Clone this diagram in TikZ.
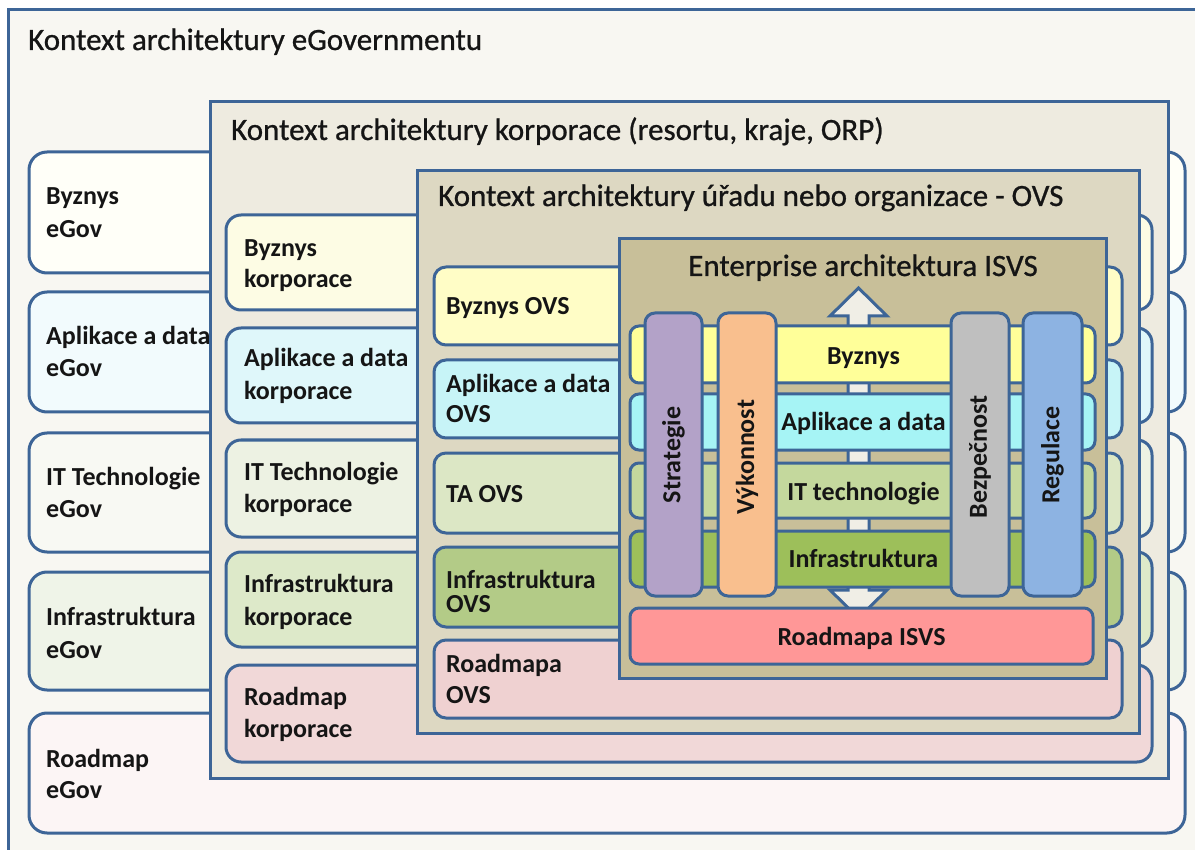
\documentclass[tikz,border=0pt]{standalone}
\usepackage{fontspec}
\setmainfont{Carlito}
\newfontfamily\ttlfont[FakeBold=0.8]{Carlito}
\definecolor{lb}{HTML}{3D6597}
\definecolor{tx}{HTML}{151515}
\definecolor{cOuter}{HTML}{F8F7F2}
\definecolor{cKorp}{HTML}{EEEBE0}
\definecolor{cOvs}{HTML}{DDD8C2}
\definecolor{cIsvs}{HTML}{C8BF99}
\definecolor{eByz}{HTML}{FFFFF8}
\definecolor{eApl}{HTML}{F2FBFD}
\definecolor{eIT}{HTML}{F8F9F3}
\definecolor{eInf}{HTML}{EFF4E8}
\definecolor{eRoad}{HTML}{FCF5F5}
\definecolor{kByz}{HTML}{FDFCE4}
\definecolor{kApl}{HTML}{DFF7FA}
\definecolor{kIT}{HTML}{EDF2E3}
\definecolor{kInf}{HTML}{DDE9C9}
\definecolor{kRoad}{HTML}{F1D8D8}
\definecolor{oByz}{HTML}{FFFDC6}
\definecolor{oApl}{HTML}{C7F4F7}
\definecolor{oTA}{HTML}{DCE7C5}
\definecolor{oInf}{HTML}{B3CB87}
\definecolor{oRoad}{HTML}{EFD1D1}
\definecolor{iByz}{HTML}{FFFF99}
\definecolor{iApl}{HTML}{A6F4F5}
\definecolor{iIT}{HTML}{C4D89D}
\definecolor{iInf}{HTML}{9DBF5A}
\definecolor{iRoad}{HTML}{FF9797}
\definecolor{pStr}{HTML}{B3A2C8}
\definecolor{pVyk}{HTML}{F9BF8E}
\definecolor{pBez}{HTML}{BFBFBF}
\definecolor{pReg}{HTML}{8DB3E2}
\definecolor{cArrow}{HTML}{F0EEE6}
\begin{document}
\begin{tikzpicture}[x=1pt,y=-1pt,
  ctxframe/.style={draw=lb, line width=3pt, fill=#1},
  rowbox/.style={draw=lb, line width=3pt, rounded corners=#1},
  lbl/.style={anchor=base west, inner sep=0pt, text=tx, font=\fontsize{26}{31}\selectfont\bfseries},
  clbl/.style={anchor=base, inner sep=0pt, text=tx, font=\fontsize{26}{31}\selectfont\bfseries},
  plbl/.style={anchor=center, inner sep=0pt, rotate=90, text=tx, font=\fontsize{26}{31}\selectfont\bfseries},
  ttl/.style={anchor=base west, inner sep=0pt, text=tx, font=\ttlfont\fontsize{31}{37}\selectfont}]
\useasboundingbox (0,0) rectangle (1195,850);
\clip (0,0) rectangle (1195,850);
\fill[white] (0,0) rectangle (1195,850);
% outer context
\draw[ctxframe=cOuter] (8,10) rectangle (1240,900);
\node[ttl] (tEgov) at (28,50) {Kontext architektury eGovernmentu};
% eGov rows
\draw[rowbox=18, fill=eByz]  (29,152) rectangle (1185,273);
\draw[rowbox=18, fill=eApl]  (29,292) rectangle (1185,412);
\draw[rowbox=18, fill=eIT]   (29,433) rectangle (1185,552);
\draw[rowbox=18, fill=eInf]  (29,572) rectangle (1185,690);
\draw[rowbox=18, fill=eRoad] (29,713) rectangle (1185,833);
\node[lbl] (eB1) at (46,205) {Byznys};
\node[lbl] (eB2) at (46,238) {eGov};
\node[lbl] (eA1) at (46,345) {Aplikace a data};
\node[lbl] (eA2) at (46,377) {eGov};
\node[lbl] (eI1) at (46,485) {IT Technologie};
\node[lbl] (eI2) at (46,517) {eGov};
\node[lbl] (eF1) at (46,625) {Infrastruktura};
\node[lbl] (eF2) at (46,658) {eGov};
\node[lbl] (eR1) at (46,767) {Roadmap};
\node[lbl] (eR2) at (46,798) {eGov};
% corporation context
\draw[ctxframe=cKorp] (210,102) rectangle (1168,778);
\node[ttl] (tKorp) at (231,140) {Kontext architektury korporace (resortu, kraje, ORP)};
\draw[rowbox=15, fill=kByz]  (226,215) rectangle (1152,310);
\draw[rowbox=15, fill=kApl]  (226,328) rectangle (1152,423);
\draw[rowbox=15, fill=kIT]   (226,440) rectangle (1152,537);
\draw[rowbox=15, fill=kInf]  (226,552) rectangle (1152,647);
\draw[rowbox=15, fill=kRoad] (226,665) rectangle (1152,762);
\node[lbl] (kB1) at (244,257) {Byznys};
\node[lbl] (kB2) at (244,288) {korporace};
\node[lbl] (kA1) at (244,367) {Aplikace a data};
\node[lbl] (kA2) at (244,400) {korporace};
\node[lbl] (kI1) at (244,480) {IT Technologie};
\node[lbl] (kI2) at (244,512) {korporace};
\node[lbl] (kF1) at (244,592) {Infrastruktura};
\node[lbl] (kF2) at (244,625) {korporace};
\node[lbl] (kR1) at (244,705) {Roadmap};
\node[lbl] (kR2) at (244,737) {korporace};
% OVS context
\draw[ctxframe=cOvs] (417,171) rectangle (1139,733);
\node[ttl] (tOvs) at (438,206) {Kontext architektury úřadu nebo organizace - OVS};
\draw[rowbox=12, fill=oByz]  (434,267) rectangle (1122,345);
\draw[rowbox=12, fill=oApl]  (434,360) rectangle (1122,438);
\draw[rowbox=12, fill=oTA]   (434,453) rectangle (1122,533);
\draw[rowbox=12, fill=oInf]  (434,547) rectangle (1122,627);
\draw[rowbox=12, fill=oRoad] (434,640) rectangle (1122,718);
\node[lbl] (oB1) at (446,315) {Byznys OVS};
\node[lbl] (oA1) at (446,392) {Aplikace a data};
\node[lbl] (oA2) at (446,423) {OVS};
\node[lbl] (oT1) at (446,502) {TA OVS};
\node[lbl] (oF1) at (446,588) {Infrastruktura};
\node[lbl] (oF2) at (446,612) {OVS};
\node[lbl] (oR1) at (446,672) {Roadmapa};
\node[lbl] (oR2) at (446,703) {OVS};
% ISVS enterprise architecture
\draw[ctxframe=cIsvs] (619,239) rectangle (1106,678);
\node[ttl, anchor=base] (tIsvs) at (863,276) {Enterprise architektura ISVS};
% double block arrow behind the layers
\draw[draw=lb, line width=3pt, fill=cArrow, line join=miter]
  (858.5,288) -- (887,316) -- (869,316) -- (869,590) -- (887,590) -- (858.5,618)
  -- (830,590) -- (848,590) -- (848,316) -- (830,316) -- cycle;
% layers
\draw[rowbox=9, fill=iByz] (630,326) rectangle (1095,383);
\draw[rowbox=9, fill=iApl] (630,394) rectangle (1095,450);
\draw[rowbox=9, fill=iIT]  (630,463) rectangle (1095,518);
\draw[rowbox=9, fill=iInf] (630,531) rectangle (1095,587);
% pillars
\draw[rowbox=10, fill=pStr] (645,313) rectangle (702,596);
\draw[rowbox=10, fill=pVyk] (718,313) rectangle (776,596);
\draw[rowbox=10, fill=pBez] (951,313) rectangle (1009,596);
\draw[rowbox=10, fill=pReg] (1023,313) rectangle (1082,596);
\node[clbl] (lByz) at (863.5,365) {Byznys};
\node[clbl] (lApl) at (863.5,431) {Aplikace a data};
\node[clbl] (lIT)  at (863.5,500) {IT technologie};
\node[clbl] (lInf) at (863.5,567) {Infrastruktura};
\node[plbl] (pS) at (673.5,455) {Strategie};
\node[plbl] (pV) at (747,457) {Výkonnost};
\node[plbl] (pB) at (980,457) {Bezpečnost};
\node[plbl] (pR) at (1052.5,455) {Regulace};
% roadmap
\draw[rowbox=9, fill=iRoad] (630,608) rectangle (1093,664);
\node[clbl] (lRoad) at (861.5,645) {Roadmapa ISVS};
\end{tikzpicture}
\end{document}
